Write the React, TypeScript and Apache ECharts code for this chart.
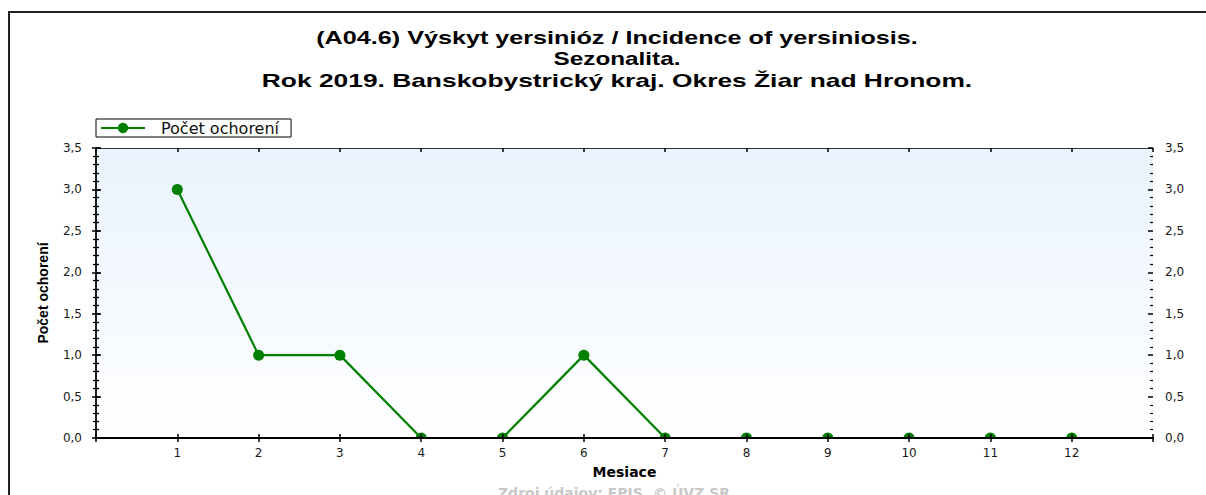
import React, { useEffect, useRef } from "react";
import * as echarts from "echarts";

const months = [1, 2, 3, 4, 5, 6, 7, 8, 9, 10, 11, 12];
const cases = [3, 1, 1, 0, 0, 1, 0, 0, 0, 0, 0, 0];
const seriesName = "Počet ochorení";
const titleLines = [
  "(A04.6) Výskyt yersinióz / Incidence of yersiniosis.",
  "Sezonalita.",
  "Rok 2019. Banskobystrický kraj. Okres Žiar nad Hronom.",
];
const titleStretch = [1.4, 1.35, 1.465];
const xAxisName = "Mesiace";
const yAxisName = "Počet ochorení";
const sourceText = "Zdroj údajov: EPIS, © ÚVZ SR";
const yMin = 0;
const yMax = 3.5;
const yStep = 0.5;
const xMin = 0;
const xMax = 13;

const fmtY = (v: number) => v.toFixed(1).replace(".", ",");
const fmtX = (v: number) => (v >= 1 && v <= 12 ? String(v) : "");

export default function App() {
  const ref = useRef<HTMLDivElement>(null);
  useEffect(() => {
    if (!ref.current) return;
    const chart = echarts.init(ref.current, undefined, { renderer: "svg" });
    const labelFont = { fontFamily: "DejaVu Sans", fontSize: 12, color: "#1a1a1a" };
    const yBase = (pos: "left" | "right", inside: boolean, labels: boolean, extra: any = {}) => ({
      type: "value",
      position: pos,
      z: 5,
      min: yMin,
      max: yMax,
      interval: yStep,
      axisLine: { show: labels, lineStyle: { color: "#111", width: 1.5 } },
      axisTick: { show: true, inside, length: inside ? 5 : 4, lineStyle: { color: "#000", width: 1.5 } },
      minorTick: { show: true, splitNumber: 5, length: 3, lineStyle: { color: "#000", width: 1.2 } },
      axisLabel: labels
        ? { show: true, formatter: fmtY, margin: pos === "left" ? 14 : 12, ...labelFont }
        : { show: false },
      splitLine: { show: false },
      minorSplitLine: { show: false },
      ...extra,
    });
    const xBase = (pos: "top" | "bottom", inside: boolean, labels: boolean, line: boolean, extra: any = {}) => ({
      type: "value",
      position: pos,
      z: 5,
      min: xMin,
      max: xMax,
      interval: 1,
      axisLine: {
        show: line,
        onZero: false,
        lineStyle: { color: pos === "bottom" ? "#000" : "#333", width: pos === "bottom" ? 2 : 1.2 },
      },
      axisTick: { show: true, inside, length: 4, lineStyle: { color: "#000", width: 1.5 } },
      axisLabel: labels ? { show: true, formatter: fmtX, margin: 9, ...labelFont } : { show: false },
      splitLine: { show: false },
      ...extra,
    });
    const option: any = {
      animation: false,
      backgroundColor: "#fff",
      grid: {
        left: 96,
        right: 53,
        top: 148,
        bottom: 57,
        show: true,
        borderWidth: 0,
        backgroundColor: new echarts.graphic.LinearGradient(0, 0, 0, 1, [
          { offset: 0, color: "#e9f3fd" },
          { offset: 1, color: "#ffffff" },
        ]),
      },
      legend: {
        show: true,
        data: [seriesName],
        left: 96,
        top: 119,
        orient: "horizontal",
        borderColor: "#000",
        borderWidth: 1,
        borderRadius: 0,
        padding: [1, 12, 1, 4],
        itemWidth: 44,
        itemHeight: 13,
        textStyle: { fontFamily: "DejaVu Sans", fontSize: 16, color: "#111", padding: [0, 0, 0, 11] },
      },
      xAxis: [
        xBase("bottom", false, true, true, {
          name: xAxisName,
          nameLocation: "middle",
          nameGap: 27,
          nameTextStyle: { fontFamily: "DejaVu Sans", fontWeight: "bold", fontSize: 14, color: "#000" },
        }),
        xBase("bottom", true, false, false),
        xBase("top", true, false, true),
      ],
      yAxis: [
        yBase("left", false, true, {
          name: yAxisName,
          nameLocation: "middle",
          nameRotate: 90,
          nameGap: 46,
          nameTextStyle: { fontFamily: "Liberation Sans", fontWeight: "bold", fontSize: 14, color: "#000" },
        }),
        yBase("left", true, false),
        yBase("right", false, true),
        yBase("right", true, false),
      ],
      series: [
        {
          name: seriesName,
          type: "line",
          xAxisIndex: 0,
          yAxisIndex: 0,
          data: months.map((m, i) => [m, cases[i]]),
          symbol: "circle",
          symbolSize: 11,
          color: "#008000",
          lineStyle: { color: "#008000", width: 2.2 },
          itemStyle: { color: "#008000" },
          z: 3,
        },
      ],
      graphic: [
        {
          type: "polyline",
          shape: { points: [[9, 495], [9, 12], [1206, 12]] },
          style: { stroke: "#222", lineWidth: 2, fill: "none" },
          silent: true,
        },
        {
          type: "rect",
          z: 4,
          silent: true,
          shape: { x: 97, y: 439, width: 1055, height: 8 },
          style: { fill: "#ffffff" },
        },
        ...titleLines.map((t, i) => ({
          type: "text",
          x: 617,
          y: 38 + i * 21.5,
          scaleX: titleStretch[i],
          style: {
            text: t,
            fontFamily: "Liberation Sans",
            fontWeight: "bold",
            fontSize: 18,
            fill: "#000",
            textAlign: "center",
            textVerticalAlign: "middle",
          },
        })),
        {
          type: "text",
          x: 614,
          y: 486,
          style: {
            text: sourceText,
            fontFamily: "DejaVu Sans",
            fontWeight: "bold",
            fontSize: 14,
            fill: "#c8c8c8",
            textAlign: "center",
            textVerticalAlign: "top",
          },
        },
      ],
    };
    chart.setOption(option);
    return () => chart.dispose();
  }, []);
  return (
    <div
      ref={ref}
      style={{ position: "absolute", left: 0, top: 0, width: 1206, height: 495 }}
    />
  );
}
